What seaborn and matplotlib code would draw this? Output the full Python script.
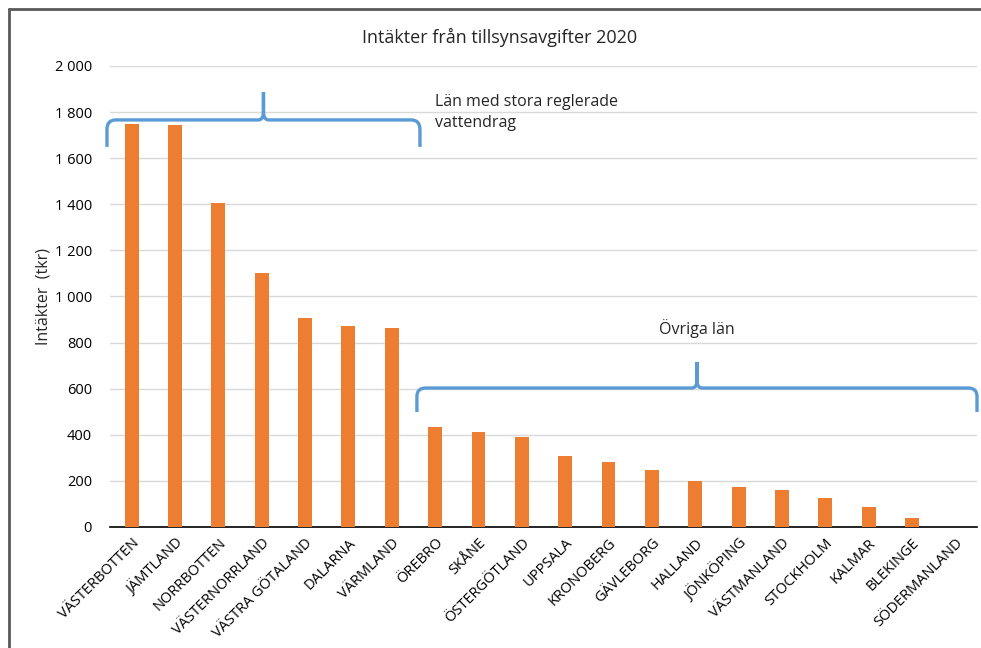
import numpy as np
import matplotlib
matplotlib.use("Agg")
import matplotlib.pyplot as plt
import matplotlib.patches as mpatches
from matplotlib.path import Path
from matplotlib.ticker import FuncFormatter
import seaborn as sns
import pandas as pd

# ---- data ----
lan = ["VÄSTERBOTTEN", "JÄMTLAND", "NORRBOTTEN", "VÄSTERNORRLAND", "VÄSTRA GÖTALAND",
       "DALARNA", "VÄRMLAND", "ÖREBRO", "SKÅNE", "ÖSTERGÖTLAND", "UPPSALA", "KRONOBERG",
       "GÄVLEBORG", "HALLAND", "JÖNKÖPING", "VÄSTMANLAND", "STOCKHOLM", "KALMAR",
       "BLEKINGE", "SÖDERMANLAND"]
intakter = [1748, 1744, 1406, 1102, 907, 872, 863, 434, 412, 389, 307, 281,
            247, 200, 172, 159, 126, 88, 38, 0]
y_ticks = [0, 200, 400, 600, 800, 1000, 1200, 1400, 1600, 1800, 2000]

df = pd.DataFrame({"lan": lan, "intakter": intakter})

sns.set_theme(style="white")
plt.rcParams['font.family'] = ['Open Sans', 'DejaVu Sans']

fig = plt.figure(figsize=(9.81, 6.48), dpi=100)
ax = fig.add_axes([110 / 981, 1 - 527 / 648, 867 / 981, 461 / 648])

sns.barplot(data=df, x="lan", y="intakter", color="#ED7D31", saturation=1,
            width=0.32, linewidth=0, ax=ax, zorder=3)

ax.set_ylim(0, 2000)
ax.set_xlim(-0.5, 19.5)
ax.set_yticks(y_ticks)
ax.yaxis.set_major_formatter(FuncFormatter(lambda v, p: f"{int(v):,}".replace(",", " ")))
ax.grid(axis="y", color="#D9D9D9", linewidth=1, zorder=0)
ax.set_axisbelow(True)
for s in ["top", "right", "left"]:
    ax.spines[s].set_visible(False)
ax.spines["bottom"].set_color("black")
ax.spines["bottom"].set_linewidth(1.2)
ax.tick_params(axis="both", length=0, labelsize=10.5, colors="black")
ax.tick_params(axis="y", pad=13)
ax.set_xlabel("")
ax.set_ylabel("Intäkter  (tkr)", fontsize=11.5, labelpad=2)
plt.setp(ax.get_xticklabels(), rotation=45, ha="right", rotation_mode="anchor")
ax.tick_params(axis="x", pad=6)

fig.text(500 / 981, 1 - 37 / 648, "Intäkter från tillsynsavgifter 2020",
         fontsize=13, ha="center", va="center")


def brace(ax, x0, x1, y, down, up):
    xm = (x0 + x1) / 2
    cx, cy, tx = 0.2, down * 0.35, 0.12
    verts = [(x0, y - down), (x0, y - cy), (x0, y), (x0 + cx, y),
             (xm - tx, y), (xm, y), (xm, y + up * 0.3), (xm, y + up),
             (xm, y + up), (xm, y + up * 0.3), (xm, y), (xm + tx, y),
             (x1 - cx, y), (x1, y), (x1, y - cy), (x1, y - down)]
    codes = [Path.MOVETO, Path.LINETO, Path.CURVE3, Path.CURVE3,
             Path.LINETO, Path.CURVE3, Path.CURVE3, Path.LINETO,
             Path.MOVETO, Path.LINETO, Path.CURVE3, Path.CURVE3,
             Path.LINETO, Path.CURVE3, Path.CURVE3, Path.LINETO]
    patch = mpatches.PathPatch(Path(verts, codes), fill=False, edgecolor="#5B9BD5",
                               linewidth=2.4, clip_on=False, zorder=4,
                               capstyle="butt", joinstyle="round")
    ax.add_patch(patch)


brace(ax, -0.57, 6.65, 1766, 117, 121)
brace(ax, 6.58, 19.5, 603, 104, 113)

ax.text(7.0, 1878, "Län med stora reglerade\nvattendrag", fontsize=11.5,
        ha="left", va="top", linespacing=1.4)
ax.text(13.04, 863, "Övriga län", fontsize=11.5, ha="center", va="center")

# outer frame (top and left edges visible)
fig.add_artist(plt.Line2D([9 / 981, 1], [1 - 9 / 648, 1 - 9 / 648],
                          color="#595959", linewidth=2, transform=fig.transFigure))
fig.add_artist(plt.Line2D([9 / 981, 9 / 981], [0, 1 - 9 / 648],
                          color="#595959", linewidth=2, transform=fig.transFigure))

fig.savefig("out.png", dpi=100)
